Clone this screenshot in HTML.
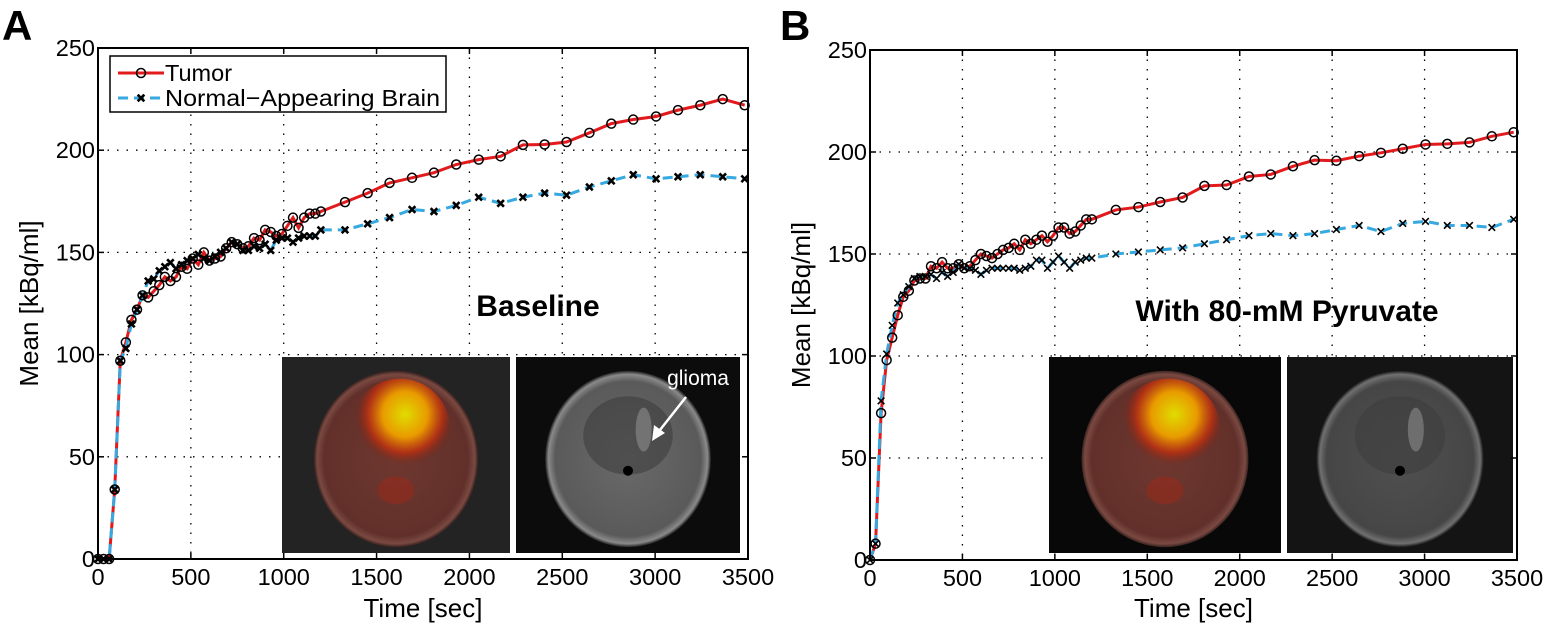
<!DOCTYPE html>
<html><head><meta charset="utf-8"><style>
body{margin:0;background:#fff;}
svg{display:block;font-family:"Liberation Sans",sans-serif;}
</style></head><body>
<svg id="fig" width="1546" height="629" viewBox="0 0 1546 629">
<defs>
<radialGradient id="hotA" cx="0.55" cy="0.35" r="0.5"><stop offset="0" stop-color="#e0dc00"/><stop offset="0.45" stop-color="#e89a00"/><stop offset="0.75" stop-color="#c03010" stop-opacity="0.8"/><stop offset="1" stop-color="#802010" stop-opacity="0"/></radialGradient>
<radialGradient id="headR" cx="0.5" cy="0.5" r="0.5"><stop offset="0" stop-color="#6e3830"/><stop offset="0.88" stop-color="#62302a"/><stop offset="0.96" stop-color="#7a4a42"/><stop offset="1" stop-color="#3a2220"/></radialGradient>
<radialGradient id="headG" cx="0.5" cy="0.5" r="0.5"><stop offset="0" stop-color="#6a6a6a"/><stop offset="0.88" stop-color="#5a5a5a"/><stop offset="0.96" stop-color="#8a8a8a"/><stop offset="1" stop-color="#202020"/></radialGradient>
<radialGradient id="headG2" cx="0.5" cy="0.5" r="0.5"><stop offset="0" stop-color="#505050"/><stop offset="0.88" stop-color="#464646"/><stop offset="0.96" stop-color="#707070"/><stop offset="1" stop-color="#1a1a1a"/></radialGradient>
</defs>
</svg>
<script>
// Panel A data
const timesEarly = [0,30,60,90,120,150,180,210,240,270,300,330,360,390,420,450,480,510,540,570,600,630,660,690,720,750,780,810,840,870,900,930,960,990,1020,1050,1080,1110,1140,1170,1200];
const timesLate = [1330,1452,1570,1691,1809,1929,2050,2168,2288,2405,2523,2646,2764,2882,3005,3123,3243,3364,3482];
const tumorA = [0,0,0,34,97,106,117,122,129,128,131,134,138,136,138,143,142,147,144,150,146,147,148,152,155,154,152,153,157,156,161,160,158,159,163,167,162,167,169,169,170,
 174.6,179,184,186.5,189,193,195.4,197,202.6,202.8,204,208.5,213,215,216.5,219.6,222,225,222];
const normalA = [0,0,0,34,97,103,115,122,129,136,137,141,143,145,142,144,146,147,149,147,146,148,150,152,155,154,151,151,153,152,154,151,156,157,157,155,157,158,158,158,161,
 161,164,167,171,170,173,177,174,177,179,178,182,185,188,186,187,188,187,186];
// Panel B data
const tumorB = [0,8,72,98,109,120,129,132,137,138,138,144,143,146,143,143,145,143,144,147,150,149,148,150,152,153,155,152,157,155,157,159,156,159,163,163,160,161,164,167,167,
 171.6,173,175.5,177.7,183.4,183.8,188,189,193,196,195.7,198,199.6,201.6,203.7,204,204.7,207.7,209.7];
const normalB = [0,8,78,101,115,126,130,134,138,139,139,140,138,141,139,141,145,143,143,142,140,142,143,143,143,143,143,142,143,144,147,147,143,146,149,146,143,146,147,148,148,
 150,151,152,153,155,157,159,160,159,160,162,164,161,165,166,164,164,163,167];
const xTicks = [0,500,1000,1500,2000,2500,3000,3500];
const yTicks = [0,50,100,150,200,250];

const times = timesEarly.concat(timesLate);
const NS = "http://www.w3.org/2000/svg";
const svg = document.getElementById('fig');
function mk(tag, attrs, parent, text){
  const e = document.createElementNS(NS, tag);
  for (const k in attrs) e.setAttribute(k, attrs[k]);
  if (text !== undefined) e.textContent = text;
  (parent||svg).appendChild(e); return e;
}

function panel(p){
  const g = mk('g', {});
  
  
  const X = v => p.x0 + (v/3500)*(p.x1-p.x0);
  const Y = v => p.y0 - (v/250)*(p.y0-p.y1);
  xTicks.forEach(t=>{ if(t>0&&t<3500){ const l=mk('line',{x1:X(t),x2:X(t),y1:p.y1,y2:p.y0,stroke:'#000','stroke-width':1.3,'stroke-dasharray':'1.5 8'},g);
      }});
  yTicks.forEach(t=>{ if(t>0&&t<250){ const l=mk('line',{x1:p.x0,x2:p.x1,y1:Y(t),y2:Y(t),stroke:'#000','stroke-width':1.3,'stroke-dasharray':'1.5 8'},g);
      }});
  drawInsets(g, p);
  const lab = mk('text',{x:p.labX,y:p.labY,'text-anchor':'middle','font-size':30,'font-weight':'bold'},g,p.label);
   
  const np = times.map((t,i)=>X(t)+','+Y(p.normal[i])).join(' ');
  const tp = times.map((t,i)=>X(t)+','+Y(p.tumor[i])).join(' ');
  const ln = mk('polyline',{points:tp,fill:'none',stroke:'#e31a1c','stroke-width':3},g);
   
  const nl = mk('polyline',{points:np,fill:'none',stroke:'#35a9e0','stroke-width':3,'stroke-dasharray':'10 6'},g);
   
  times.forEach((t,i)=>{
    const c = mk('circle',{cx:X(t),cy:Y(p.tumor[i]),r:4.5,fill:'none',stroke:'#000','stroke-width':1.5},g);
     
  });
  times.forEach((t,i)=>{
    const x=X(t), y=Y(p.normal[i]), s=3.3;
    const m = mk('path',{d:`M${x-s},${y-s}L${x+s},${y+s}M${x-s},${y+s}L${x+s},${y-s}`,stroke:'#000','stroke-width':p.xw},g);
     
  });
  const box = mk('rect',{x:p.x0,y:p.y1,width:p.x1-p.x0,height:p.y0-p.y1,fill:'none',stroke:'#000','stroke-width':2},g);
   
  xTicks.forEach(t=>{
    mk('line',{x1:X(t),x2:X(t),y1:p.y0,y2:p.y0-6,stroke:'#000','stroke-width':1.5},g);
    mk('line',{x1:X(t),x2:X(t),y1:p.y1,y2:p.y1+6,stroke:'#000','stroke-width':1.5},g);
    const tl = mk('text',{x:X(t),y:p.y0+26,'text-anchor':'middle','font-size':23.5},g,String(t));
     
  });
  yTicks.forEach(t=>{
    mk('line',{x1:p.x0,x2:p.x0+6,y1:Y(t),y2:Y(t),stroke:'#000','stroke-width':1.5},g);
    mk('line',{x1:p.x1,x2:p.x1-6,y1:Y(t),y2:Y(t),stroke:'#000','stroke-width':1.5},g);
    const tl = mk('text',{x:p.x0-3,y:Y(t)+8,'text-anchor':'end','font-size':23.5},g,String(t));
     
  });
  const xt = mk('text',{x:(p.x0+p.x1)/2,y:617,'text-anchor':'middle','font-size':26},g,'Time [sec]');
   
  const yt = mk('text',{x:0,y:0,'text-anchor':'middle','font-size':26,transform:`translate(${p.x0-60},${(p.y0+p.y1)/2}) rotate(-90)`},g,'Mean [kBq/ml]');
   
  const pl = mk('text',{x:p.letterX,y:40,'font-size':42,'font-weight':'bold'},g,p.id.toUpperCase());
   
}

function drawInsets(g, p){
  const [a,b] = p.ins;
  const bg1 = p.id==='a' ? '#232323' : '#080808';
  const bg2 = p.id==='a' ? '#0c0c0c' : '#141414';
  const i1 = mk('g',{},g);  
  mk('rect',{x:a[0],y:a[1],width:a[2],height:a[3],fill:bg1},i1);
  const cx=a[0]+a[2]/2, cy=a[1]+a[3]/2+4;
  mk('ellipse',{cx:cx,cy:cy,rx:a[2]*0.36,ry:a[3]*0.45,fill:'url(#headR)'},i1);
  mk('ellipse',{cx:cx+4,cy:cy-a[3]*0.15,rx:a[2]*0.22,ry:a[3]*0.26,fill:'url(#hotA)'},i1);
  mk('ellipse',{cx:cx,cy:cy+a[3]*0.16,rx:a[2]*0.08,ry:a[3]*0.07,fill:'#a02818',opacity:0.5},i1);
  const i2 = mk('g',{},g);  
  mk('rect',{x:b[0],y:b[1],width:b[2],height:b[3],fill:bg2},i2);
  const cx2=b[0]+b[2]/2, cy2=b[1]+b[3]/2+4;
  mk('ellipse',{cx:cx2,cy:cy2,rx:b[2]*0.37,ry:b[3]*0.45,fill:p.id==='a'?'url(#headG)':'url(#headG2)'},i2);
  mk('ellipse',{cx:cx2,cy:cy2-b[3]*0.12,rx:b[2]*0.2,ry:b[3]*0.2,fill:'#3e3e3e',opacity:0.6},i2);
  mk('circle',{cx:cx2,cy:cy2+b[3]*0.06,r:5,fill:'#000'},i2);
  mk('ellipse',{cx:cx2+b[2]*0.07,cy:cy2-b[3]*0.15,rx:8,ry:22,fill:'#9a9a9a',opacity:0.5},i2);
  if(p.id==='a'){
    const gl = mk('text',{x:b[0]+182,y:b[1]+28,'text-anchor':'middle','font-size':21,fill:'#fff'},g,'glioma');
     
    const ar = mk('path',{d:`M${b[0]+170},${b[1]+40} L${b[0]+140},${b[1]+78}`,stroke:'#fff','stroke-width':2.5,fill:'none'},g);
     
    mk('path',{d:`M${b[0]+136},${b[1]+84} L${b[0]+138},${b[1]+68} L${b[0]+149},${b[1]+76} Z`,fill:'#fff'},g);
  }
}

panel({id:'a',x0:98,x1:748,y0:559,y1:48,tumor:tumorA,normal:normalA,xw:2.6,label:'Baseline',labX:538,labY:316,letterX:2,
  ins:[[282,357,228,196],[516,357,224,196]]});
panel({id:'b',x0:870,x1:1517,y0:560,y1:50,tumor:tumorB,normal:normalB,xw:1.6,label:'With 80-mM Pyruvate',labX:1287,labY:321,letterX:780,
  ins:[[1049,357,232,196],[1287,357,226,196]]});

const lg = mk('g',{});


mk('rect',{x:110,y:56,width:336,height:56,fill:'#fff',stroke:'#000','stroke-width':1.5},lg);
mk('line',{x1:118,x2:164,y1:73,y2:73,stroke:'#e31a1c','stroke-width':3},lg);
mk('circle',{cx:141,cy:73,r:4.5,fill:'none',stroke:'#000','stroke-width':1.5},lg);
const l1 = mk('text',{x:165,y:81,'font-size':23.5},lg,'Tumor');
 
mk('line',{x1:118,x2:164,y1:98,y2:98,stroke:'#35a9e0','stroke-width':3,'stroke-dasharray':'10 6'},lg);
mk('path',{d:'M137.7,94.7L144.3,101.3M137.7,101.3L144.3,94.7',stroke:'#000','stroke-width':2.6},lg);
const l2 = mk('text',{x:165,y:106,'font-size':23.5,textLength:275,lengthAdjust:'spacingAndGlyphs'},lg,'Normal\u2212Appearing Brain');
 
</script>
</body></html>
